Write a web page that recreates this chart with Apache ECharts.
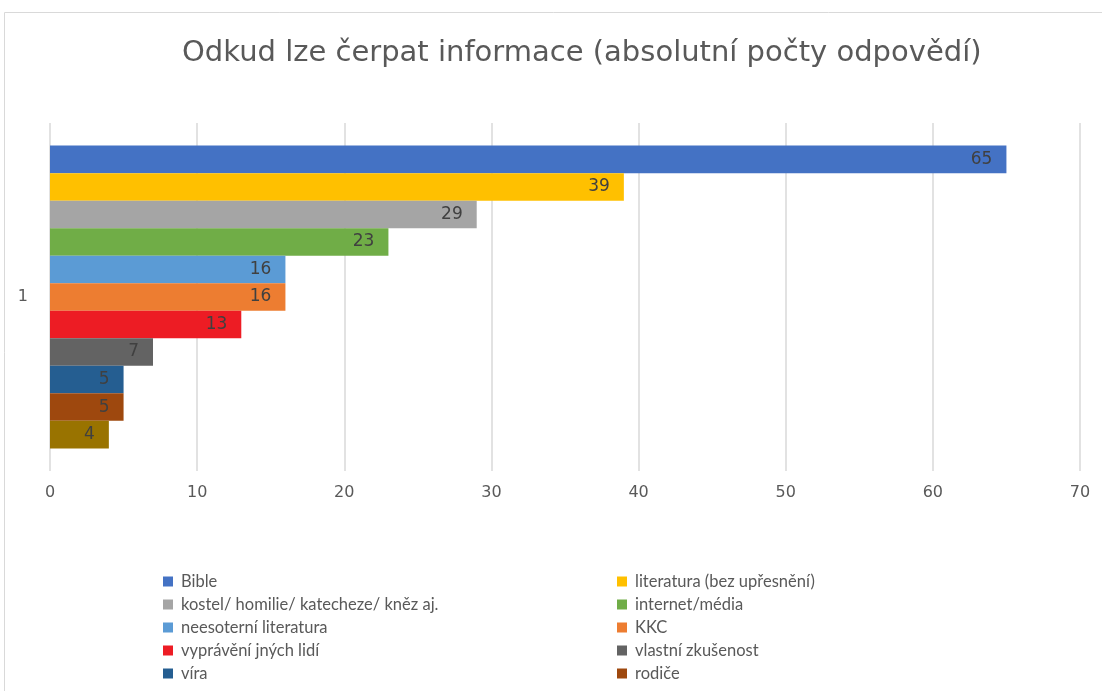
<!DOCTYPE html>
<html lang="cs">
<head>
<meta charset="UTF-8">
<title>Odkud lze čerpat informace</title>
<script src="https://cdn.jsdelivr.net/npm/echarts@6/dist/echarts.min.js"></script>
<style>
  html, body { margin: 0; padding: 0; background: #fff; }
</style>
</head>
<body>
<div id="main" style="width: 1102px;height:691px;"></div>
<script>
  const categories = ['1'];
  const names = ['Bible', 'literatura (bez upřesnění)', 'kostel/ homilie/ katecheze/ kněz aj.', 'internet/média',
    'neesoterní literatura', 'KKC', 'vyprávění jných lidí', 'vlastní zkušenost', 'víra', 'rodiče', 'ostatní'];
  const values = [65, 39, 29, 23, 16, 16, 13, 7, 5, 5, 4];
  const colors = ['#4472c4', '#ffc000', '#a5a5a5', '#70ad47', '#5b9bd5', '#ed7d31', '#ed1c24', '#636363', '#255e91', '#9e480e', '#997300'];
  const xTicks = [0, 10, 20, 30, 40, 50, 60, 70];

  const font = 'Lato, "Open Sans", sans-serif';
  const wide = '"DejaVu Sans", sans-serif';
  const myChart = echarts.init(document.getElementById('main'));

  const series = names.map((n, i) => ({
    name: n,
    type: 'bar',
    data: [values[i]],
    itemStyle: { color: colors[i] },
    barGap: '0%',
    barCategoryGap: '13%',
    label: {
      show: true,
      position: 'insideRight',
      color: '#404040',
      fontSize: 17,
      fontFamily: wide,
      distance: 14
    }
  }));

  const option = {
    animation: false,
    color: colors,
    title: {
      text: 'Odkud lze čerpat informace (absolutní počty odpovědí)',
      left: 177,
      top: 34,
      textStyle: { color: '#595959', fontSize: 29, fontWeight: 'normal', fontFamily: wide }
    },
    graphic: [{
      type: 'rect',
      shape: { x: 4.5, y: 12.5, width: 1200, height: 800 },
      style: { fill: 'none', stroke: '#d9d9d9', lineWidth: 1 },
      silent: true
    }],
    legend: {
      data: names.slice(0, 10),
      left: 163,
      top: 570,
      width: 940,
      itemWidth: 10,
      itemHeight: 10,
      itemGap: 0,
      icon: 'rect',
      padding: 0,
      textStyle: { color: '#595959', fontSize: 16.5, fontFamily: font, width: 436, lineHeight: 23, padding: [0, 0, 0, 3] }
    },
    grid: { left: 50, right: 22, top: 123, bottom: 220, containLabel: false },
    xAxis: {
      type: 'value',
      min: xTicks[0],
      max: xTicks[xTicks.length - 1],
      interval: 10,
      axisLine: { show: false },
      axisTick: { show: false },
      axisLabel: { color: '#595959', fontSize: 16, fontFamily: wide, margin: 14 },
      splitLine: { lineStyle: { color: '#d9d9d9', width: 1.5 } }
    },
    yAxis: {
      type: 'category',
      data: categories,
      inverse: true,
      axisLine: { show: false },
      axisTick: { show: false },
      axisLabel: { color: '#595959', fontSize: 16, fontFamily: wide, margin: 22 }
    },
    series: series
  };
  myChart.setOption(option);
</script>
</body>
</html>
